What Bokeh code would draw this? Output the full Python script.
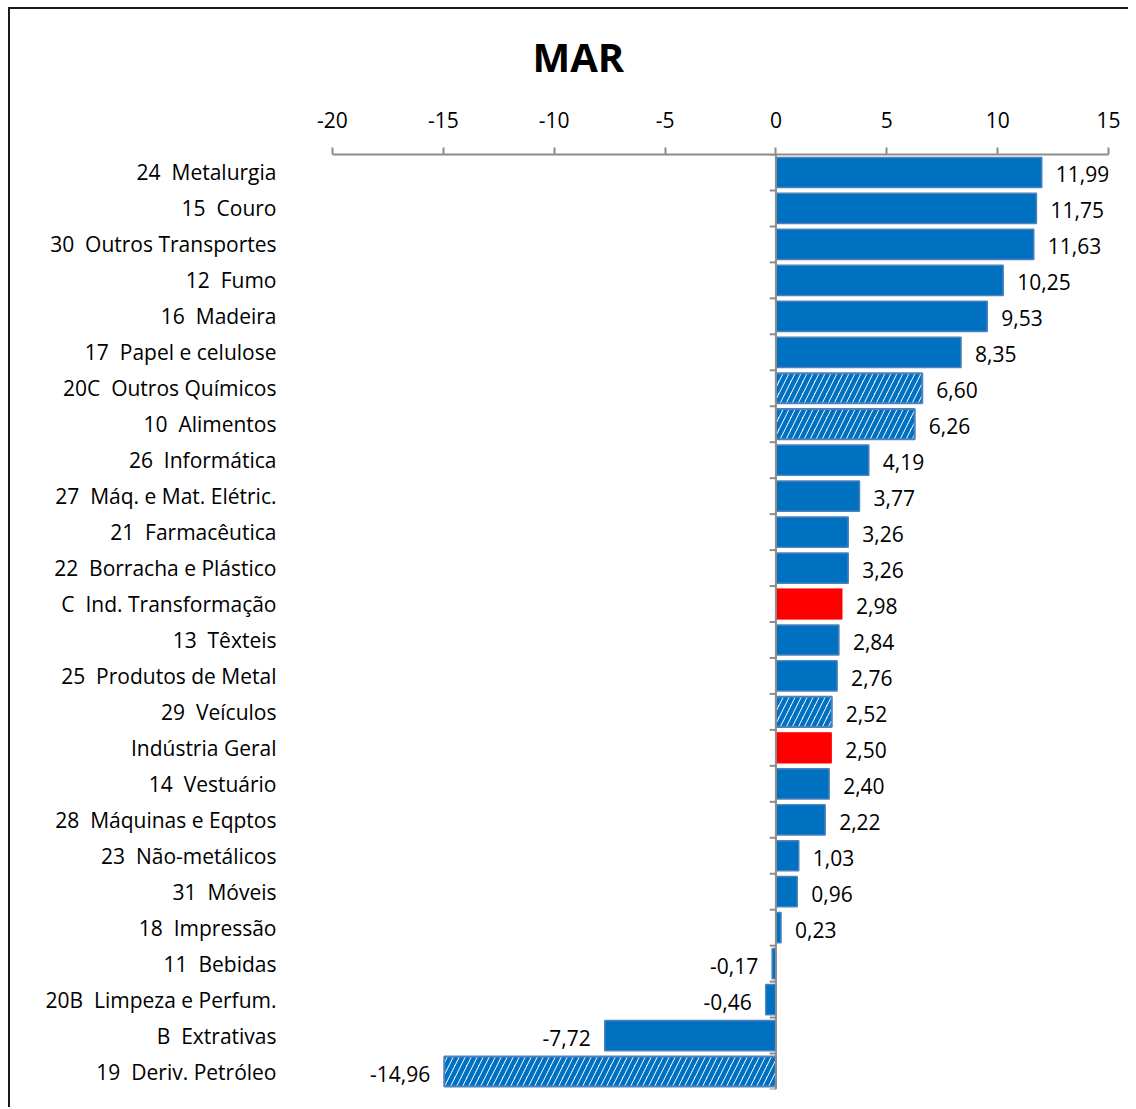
from bokeh.plotting import figure
from bokeh.models import ColumnDataSource, FixedTicker, Span
from bokeh.embed import file_html
from bokeh.resources import INLINE
from bokeh.core.properties import value

categories = [
    "24  Metalurgia", "15  Couro", "30  Outros Transportes", "12  Fumo",
    "16  Madeira", "17  Papel e celulose", "20C  Outros Químicos", "10  Alimentos",
    "26  Informática", "27  Máq. e Mat. Elétric.", "21  Farmacêutica",
    "22  Borracha e Plástico", "C  Ind. Transformação", "13  Têxteis",
    "25  Produtos de Metal", "29  Veículos", "Indústria Geral", "14  Vestuário",
    "28  Máquinas e Eqptos", "23  Não-metálicos", "31  Móveis", "18  Impressão",
    "11  Bebidas", "20B  Limpeza e Perfum.", "B  Extrativas", "19  Deriv. Petróleo",
]
values = [11.99, 11.75, 11.63, 10.25, 9.53, 8.35, 6.60, 6.26, 4.19, 3.77, 3.26,
          3.26, 2.98, 2.84, 2.76, 2.52, 2.50, 2.40, 2.22, 1.03, 0.96, 0.23,
          -0.17, -0.46, -7.72, -14.96]
hatched = ["20C  Outros Químicos", "10  Alimentos", "29  Veículos", "19  Deriv. Petróleo"]
highlighted = ["C  Ind. Transformação", "Indústria Geral"]
x_ticks = [-20, -15, -10, -5, 0, 5, 10, 15]
x_tick_labels = ["-20", "-15", "-10", "-5", "0", "5", "10", "15"]
title_text = "MAR"

n = len(categories)
ys = [n - 1 - i for i in range(n)]
labels = [f"{v:.2f}".replace(".", ",") for v in values]

def subset(pred):
    d = dict(y=[], v=[], lab=[])
    for c, y, v, l in zip(categories, ys, values, labels):
        if pred(c, v):
            d["y"].append(y); d["v"].append(v); d["lab"].append(l)
    return ColumnDataSource(d)

FONT = "Open Sans"
FS = "21px"
W, H = 1120, 1100
p = figure(width=W, height=H, x_range=(-20, 15), y_range=(-0.5, n - 0.5),
           output_backend="svg", toolbar_location=None, x_axis_location="above",
           min_border_left=322, min_border_right=22, min_border_top=143,
           min_border_bottom=20, title=title_text)
p.styles = {"border-left": "2px solid #1a1a1a", "border-top": "2px solid #1a1a1a",
            "margin-left": "8px", "margin-top": "7px"}
p.outline_line_color = None
p.xgrid.visible = False
p.ygrid.visible = False

p.title.align = "left"
p.title.offset = 200
p.title.text_font = FONT
p.title.text_font_size = "40px"
p.title.text_font_style = "bold"
p.title.text_color = "black"
p.title.standoff = 34

# x axis
xa = p.xaxis[0]
xa.ticker = FixedTicker(ticks=x_ticks)
xa.major_label_overrides = {t: s for t, s in zip(x_ticks, x_tick_labels)}
xa.axis_line_color = "#8c8c8c"
xa.axis_line_width = 2
xa.major_tick_line_color = "#8c8c8c"
xa.major_tick_line_width = 2
xa.major_tick_out = 7
xa.major_tick_in = 0
xa.minor_tick_line_color = None
xa.major_label_text_font = FONT
xa.major_label_text_font_size = FS
xa.major_label_text_color = "black"
xa.major_label_standoff = 20
xa.axis_label = "\u00a0"
xa.axis_label_text_font_size = "4.5px"
xa.axis_label_standoff = 0

# y axis labels
ya = p.yaxis[0]
ya.ticker = FixedTicker(ticks=ys)
ya.major_label_overrides = {y: c.replace("  ", " \u00a0") for y, c in zip(ys, categories)}
ya.axis_line_color = None
ya.major_tick_line_color = None
ya.minor_tick_line_color = None
ya.major_label_standoff = 50
ya.major_label_text_font = FONT
ya.major_label_text_font_size = FS
ya.major_label_text_color = "black"

BLUE = "#0070C0"
EDGE = "#4F81BD"
H_BAR = 0.84

solid = subset(lambda c, v: c not in hatched and c not in highlighted)
hat = subset(lambda c, v: c in hatched)
red = subset(lambda c, v: c in highlighted)

p.hbar(y="y", left=0, right="v", height=H_BAR, source=solid,
       fill_color=BLUE, line_color=EDGE, line_width=1.5)
p.hbar(y="y", left=0, right="v", height=H_BAR, source=hat,
       fill_color="white", hatch_pattern="right_diagonal_line", hatch_color=BLUE,
       hatch_weight=4.5, hatch_scale=12, line_color=EDGE, line_width=2)
p.hbar(y="y", left=0, right="v", height=H_BAR, source=red,
       fill_color="#FF0000", line_color="#FF0000", line_width=1)

# vertical axis at zero
p.add_layout(Span(location=0, dimension="height", line_color="#8c8c8c", line_width=2))
bounds = [y + 0.5 for y in ys] + [-0.5]
p.segment(x0=[0] * len(bounds), x1=[-0.28] * len(bounds), y0=bounds, y1=bounds,
          line_color="#8c8c8c", line_width=2)

# value labels
pos = subset(lambda c, v: v >= 0)
neg = subset(lambda c, v: v < 0)
p.text(x="v", y="y", text="lab", source=pos, x_offset=14, y_offset=2, text_align="left",
       text_baseline="middle", text_font=value(FONT), text_font_size=FS,
       text_color="black")
p.text(x="v", y="y", text="lab", source=neg, x_offset=-14, y_offset=2, text_align="right",
       text_baseline="middle", text_font=value(FONT), text_font_size=FS,
       text_color="black")

open("out.html", "w").write(file_html(p, INLINE))
